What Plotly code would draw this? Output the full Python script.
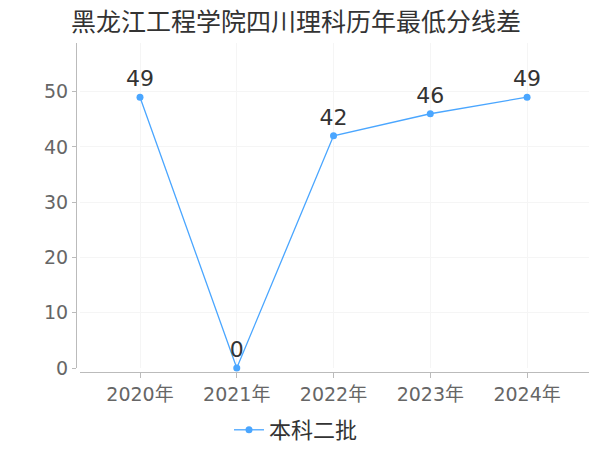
import plotly.graph_objects as go

years = ["2020年", "2021年", "2022年", "2023年", "2024年"]
values = [49, 0, 42, 46, 49]
series_name = "本科二批"
title_text = "黑龙江工程学院四川理科历年最低分线差"

FONT = "DejaVu Sans, Noto Sans CJK SC, sans-serif"
COLOR = "#4AA6FF"

# page body has an 8px margin, so the figure is 592x442 and offset by 8px
W, H = 592, 442

fig = go.Figure()
fig.add_trace(go.Scatter(
    x=years, y=values, name=series_name,
    mode="lines+markers+text",
    text=[str(v) for v in values],
    textposition="top center",
    textfont=dict(size=22, color="#333333", family=FONT),
    line=dict(color=COLOR, width=1.3),
    marker=dict(color=COLOR, size=7),
    cliponaxis=False,
))

fig.update_layout(
    width=W, height=H,
    margin=dict(l=68, r=11, t=35, b=78, autoexpand=False),
    paper_bgcolor="white", plot_bgcolor="white",
    font=dict(family=FONT, color="#666666"),
    title=dict(text=title_text, x=63 / W, xanchor="left", xref="container",
               y=1 - 14 / H, yanchor="middle", yref="container",
               pad=dict(l=0, r=0, t=0, b=0),
               font=dict(size=25, color="#333333", family=FONT)),
    showlegend=True,
    legend=dict(orientation="h", x=288 / W, xanchor="center", xref="container",
                y=1 - 422 / H, yanchor="middle", yref="container",
                font=dict(size=22, color="#333333", family=FONT),
                itemwidth=30),
    xaxis=dict(
        domain=[4 / 513, 1],
        anchor="free", position=0,
        range=[-0.62, 4.64],
        automargin=False,
        showline=True, linecolor="#BBBBBB", linewidth=1,
        ticks="outside", ticklen=5, tickcolor="#BBBBBB",
        showgrid=True, gridcolor="#F5F5F5",
        tickfont=dict(size=19, color="#666666", family=FONT),
        zeroline=False,
    ),
    yaxis=dict(
        domain=[4 / 329, 1],
        anchor="free", position=0,
        range=[0, 58.8],
        automargin=False,
        tickvals=[0, 10, 20, 30, 40, 50],
        showline=True, linecolor="#BBBBBB", linewidth=1,
        ticks="outside", ticklen=4, tickcolor="#BBBBBB",
        showgrid=True, gridcolor="#F5F5F5",
        tickfont=dict(size=19, color="#666666", family=FONT),
        zeroline=False,
    ),
)

fig.write_html("out.html")
